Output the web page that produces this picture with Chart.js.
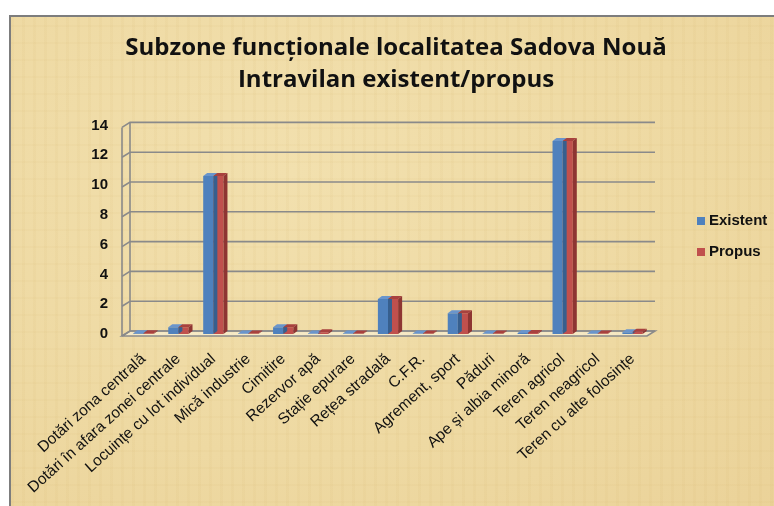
<!DOCTYPE html>
<html><head><meta charset="utf-8">
<script src="https://cdn.jsdelivr.net/npm/chart.js@4/dist/chart.umd.min.js"></script>
<style>
html,body{margin:0;padding:0;width:774px;height:506px;overflow:hidden;background:#fff;}
#paper{position:absolute;left:9px;top:15px;width:800px;height:520px;border-left:2px solid #7d7d7d;border-top:2px solid #7d7d7d;
background:
 repeating-linear-gradient(90deg, rgba(205,170,95,0.07) 0px, rgba(205,170,95,0.07) 3px, rgba(255,255,255,0) 3px, rgba(255,255,255,0) 11px),
 repeating-linear-gradient(0deg, rgba(205,170,95,0.06) 0px, rgba(205,170,95,0.06) 2px, rgba(255,255,255,0) 2px, rgba(255,255,255,0) 17px),
 radial-gradient(ellipse at 35% 30%, #F2E0AE 0%, #EED9A2 55%, #EAD197 100%);}
#wrap{position:absolute;left:0;top:0;width:774px;height:506px;}
</style></head>
<body>
<div id="paper"></div>
<div id="wrap"><canvas id="c" width="774" height="506"></canvas></div>
<script>
const categories = ["Dotări zona centrală","Dotări în afara zonei centrale","Locuințe cu lot individual","Mică industrie","Cimitire","Rezervor apă","Stație epurare","Rețea stradală","C.F.R.","Agrement, sport","Păduri","Ape și albia minoră","Teren agricol","Teren neagricol","Teren cu alte folosințe"];
const existent = [0.05,0.45,10.6,0.04,0.45,0.03,0.04,2.35,0.04,1.4,0.04,0.06,12.95,0.04,0.12];
const propus   = [0.05,0.45,10.6,0.04,0.45,0.12,0.04,2.35,0.04,1.4,0.04,0.06,12.95,0.04,0.15];
const yTicks = [0,2,4,6,8,10,12,14];
const titleLines = ["Subzone funcționale localitatea Sadova Nouă","Intravilan existent/propus"];
const seriesNames = ["Existent","Propus"];

const BLUE="#4F81BD", RED="#C0504D";
const sideCol = {[BLUE]:"#375F8E",[RED]:"#8E3532"};
const topCol = {[BLUE]:"#6A95CC",[RED]:"#A8413E"};
const BD=4, BDY=3; // bar depth
const GRID="#8a8a8a";

const threeD = {
  id:'threeD',
  beforeDatasetsDraw(chart){
    const ctx=chart.ctx, y=chart.scales.y, a=chart.chartArea;
    const L=a.left, R=a.right, y0=y.getPixelForValue(0);
    ctx.save();
    ctx.lineWidth=1.6; ctx.strokeStyle=GRID;
    ctx.beginPath();
    ctx.moveTo(L-4,y0+2); ctx.lineTo(R-3,y0+2); ctx.lineTo(R+5,y0-3); ctx.lineTo(L+4,y0-3); ctx.closePath();
    ctx.fillStyle="rgba(255,250,235,0.45)"; ctx.fill(); ctx.stroke();
    yTicks.forEach(v=>{
      const p=y.getPixelForValue(v);
      ctx.beginPath();
      ctx.moveTo(L-4,p+2); ctx.lineTo(L+4,p-3); ctx.lineTo(R+5,p-3); ctx.stroke();
    });
    const pt=y.getPixelForValue(yTicks[yTicks.length-1]);
    ctx.beginPath(); ctx.moveTo(L-4,pt+2); ctx.lineTo(L-4,y0+2); ctx.stroke();
    ctx.beginPath(); ctx.moveTo(L+4,pt-3); ctx.lineTo(L+4,y0-3); ctx.stroke();
    ctx.restore();
  },
  afterDatasetsDraw(chart){
    const ctx=chart.ctx;
    ctx.save();
    chart.data.datasets.forEach((ds,di)=>{
      const meta=chart.getDatasetMeta(di);
      meta.data.forEach(el=>{
        const w=el.width, xl=el.x-w/2, xr=el.x+w/2, yt=el.y, yb=el.base;
        ctx.fillStyle=topCol[ds.backgroundColor];
        ctx.beginPath(); ctx.moveTo(xl,yt); ctx.lineTo(xl+BD,yt-BDY); ctx.lineTo(xr+BD,yt-BDY); ctx.lineTo(xr,yt); ctx.closePath(); ctx.fill();
        ctx.fillStyle=sideCol[ds.backgroundColor];
        ctx.beginPath(); ctx.moveTo(xr,yt); ctx.lineTo(xr+BD,yt-BDY); ctx.lineTo(xr+BD,yb-BDY); ctx.lineTo(xr,yb); ctx.closePath(); ctx.fill();
      });
    });
    ctx.restore();
  },
  afterDraw(chart){
    const ctx=chart.ctx;
    ctx.save();
    ctx.font="bold 15px 'Liberation Sans', Arial, sans-serif";
    ctx.textBaseline="middle";
    chart.data.datasets.forEach((ds,i)=>{
      const cy=221+i*31;
      ctx.fillStyle=ds.backgroundColor;
      ctx.fillRect(697,cy-4,8,8);
      ctx.fillStyle="#111";
      ctx.fillText(ds.label,709,cy);
    });
    ctx.restore();
  }
};

new Chart(document.getElementById('c'),{
  type:'bar',
  data:{labels:categories,datasets:[
    {label:seriesNames[0],data:existent,backgroundColor:BLUE,borderWidth:0},
    {label:seriesNames[1],data:propus,backgroundColor:RED,borderWidth:0}
  ]},
  options:{
    responsive:false,animation:false,
    layout:{padding:{left:18,right:0,top:0,bottom:0}},
    datasets:{bar:{categoryPercentage:0.58,barPercentage:1.0}},
    plugins:{
      legend:{display:false},
      tooltip:{enabled:false},
      title:{display:true,text:titleLines,color:"#111",
        font:{family:"'Open Sans','Noto Sans',sans-serif",size:24,weight:'bold',lineHeight:1.3},
        padding:{top:33,bottom:30}}
    },
    scales:{
      x:{grid:{display:false,drawTicks:false},border:{display:false},
        ticks:{color:"#111",font:{family:"'Liberation Sans',Arial,sans-serif",size:15.5},maxRotation:42,minRotation:42,padding:16,autoSkip:false},
        afterFit(s){s.height=172;}},
      y:{min:0,max:14,grid:{display:false,drawTicks:false},border:{display:false},
        afterBuildTicks(s){s.ticks=yTicks.map(v=>({value:v}));},
        ticks:{color:"#111",font:{family:"'Liberation Sans',Arial,sans-serif",size:15,weight:'bold'},padding:18},
        afterFit(s){s.width=108;}},
      yr:{position:'right',display:true,grid:{display:false,drawTicks:false},border:{display:false},
        ticks:{display:false},
        afterFit(s){s.width=124;}}
    }
  },
  plugins:[threeD]
});
</script>
</body></html>
